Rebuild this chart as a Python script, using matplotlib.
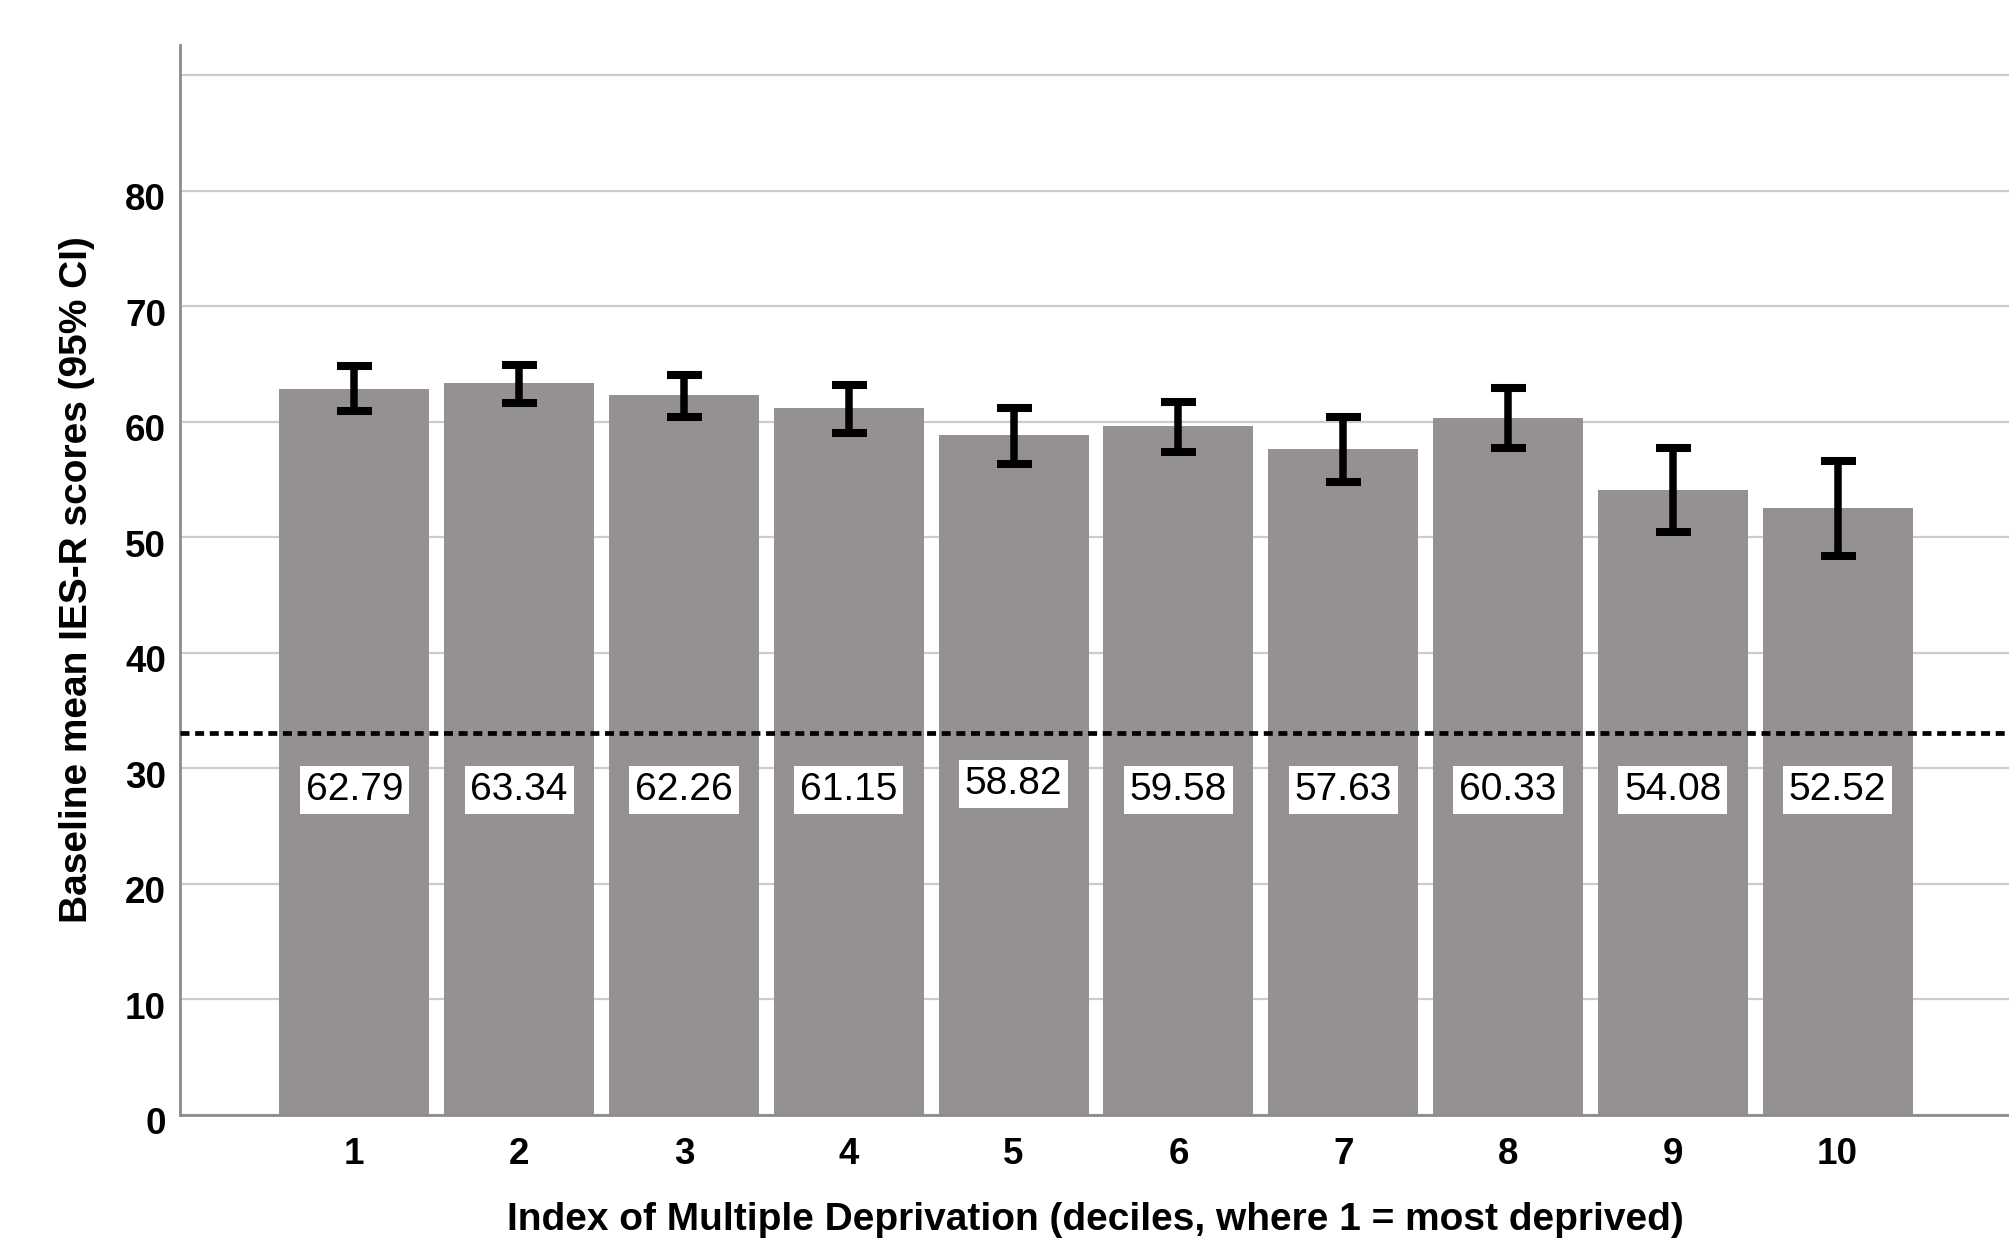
import matplotlib
matplotlib.use("Agg")
import matplotlib.pyplot as plt
import matplotlib.transforms as mtransforms
import numpy as np

plt.rcParams["font.family"] = ["Liberation Sans", "DejaVu Sans"]

deciles = ["1", "2", "3", "4", "5", "6", "7", "8", "9", "10"]
means = [62.79, 63.34, 62.26, 61.15, 58.82, 59.58, 57.63, 60.33, 54.08, 52.52]
ci_low = [60.88, 61.58, 60.42, 58.98, 56.32, 57.33, 54.73, 57.68, 50.41, 48.35]
ci_high = [64.78, 64.89, 64.00, 63.20, 61.17, 61.72, 60.42, 62.87, 57.68, 56.61]
cutoff = 33
yticks = [0, 10, 20, 30, 40, 50, 60, 70, 80, 90]
ytick_labels = ["0", "10", "20", "30", "40", "50", "60", "70", "80", ""]

x = np.arange(1, len(deciles) + 1)
means_arr = np.array(means)
yerr = [means_arr - np.array(ci_low), np.array(ci_high) - means_arr]

fig = plt.figure(figsize = (20.09, 12.39), dpi = 100)
ax = fig.add_axes([180/2009, 1 - 1114.5/1239, 1 - 180/2009, (1114.5 - 45)/1239])

ax.bar(x, means, width = 0.91, color = "#959190", zorder = 2)
ax.errorbar(x, means, yerr = yerr, fmt = "none", ecolor = "black", elinewidth = 5.4,
            capsize = 12.6, capthick = 5.8, zorder = 4)
ax.axhline(cutoff, color = "black", lw = 3.4, ls = (0, (1.9, 1.2)), zorder = 3)

# value labels in white boxes under the cutoff line
for i, (xi, m) in enumerate(zip(x, means)):
    ly = 28.6 if i == 4 else 28.1
    ax.text(xi, ly, f"{m:.2f}", ha = "center", va = "center", fontsize = 28,
            bbox = dict(boxstyle = "square,pad=0.15", fc = "white", ec = "none"), zorder = 5)

ax.set_xlim(-0.058, 11.04)
ax.set_ylim(0, 92.6)
ax.set_xticks(x)
ax.set_xticklabels(deciles, fontsize = 26.5, fontweight = "bold")
ax.set_yticks(yticks)
ax.set_yticklabels(ytick_labels, fontsize = 26.5, fontweight = "bold")
ax.tick_params(axis = "both", length = 0)
ax.tick_params(axis = "x", pad = 16)
ax.tick_params(axis = "y", pad = 10)
offset = mtransforms.ScaledTranslation(0, -6/100, fig.dpi_scale_trans)
for lab in ax.get_yticklabels():
    lab.set_transform(lab.get_transform() + offset)

ax.grid(axis = "y", color = "#cccccc", lw = 1.6, zorder = 0)
ax.set_axisbelow(True)
ax.spines["top"].set_visible(False)
ax.spines["right"].set_visible(False)
ax.spines["left"].set_color("#8c8c8c")
ax.spines["bottom"].set_color("#8c8c8c")
ax.spines["left"].set_linewidth(2)
ax.spines["bottom"].set_linewidth(2)

fig.text(1095.5/2009, 1 - 1220/1239, "Index of Multiple Deprivation (deciles, where 1 = most deprived)",
         ha = "center", va = "center", fontsize = 28, fontweight = "bold")
fig.text(77/2009, 1 - 580/1239, "Baseline mean IES-R scores (95% CI)",
         ha = "center", va = "center", rotation = 90, fontsize = 28, fontweight = "bold")

fig.savefig("out.png", dpi = 100)
